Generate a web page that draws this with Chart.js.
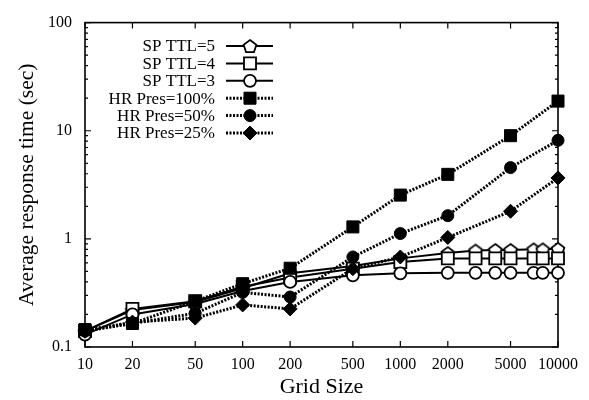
<!DOCTYPE html>
<html><head><meta charset="utf-8">
<script src="https://cdn.jsdelivr.net/npm/chart.js@4"></script>
<style>html,body{margin:0;padding:0;background:#fff}canvas{display:block}</style>
</head><body>
<canvas id="c" width="589" height="400"></canvas>
<script>
// ---- data ----
const xTickValues = [10, 20, 50, 100, 200, 500, 1000, 2000, 5000, 10000];
const xTickLabels = ['10', '20', '50', '100', '200', '500', '1000', '2000', '5000', '10000'];
const yTickValues = [0.1, 1, 10, 100];
const yTickLabels = ['0.1', '1', '10', '100'];
const seriesNames = ['SP TTL=5', 'SP TTL=4', 'SP TTL=3', 'HR Pres=100%', 'HR Pres=50%', 'HR Pres=25%'];
const gridSP = [10, 20, 50, 100, 200, 500, 1000, 2000, 3000, 4000, 5000, 7000, 8000, 10000];
const gridHR = [10, 20, 50, 100, 200, 500, 1000, 2000, 5000, 10000];
const spTTL5 = [0.14, 0.22, 0.26, 0.35, 0.48, 0.56, 0.66, 0.74, 0.78, 0.79, 0.79, 0.80, 0.80, 0.81];
const spTTL4 = [0.14, 0.225, 0.265, 0.36, 0.44, 0.53, 0.61, 0.66, 0.66, 0.66, 0.66, 0.66, 0.66, 0.66];
const spTTL3 = [0.13, 0.20, 0.25, 0.33, 0.40, 0.46, 0.48, 0.485, 0.485, 0.485, 0.485, 0.485, 0.485, 0.485];
const hrPres100 = [0.145, 0.165, 0.265, 0.385, 0.535, 1.29, 2.54, 3.95, 9.0, 18.8];
const hrPres50 = [0.14, 0.165, 0.205, 0.32, 0.29, 0.68, 1.12, 1.64, 4.56, 8.15];
const hrPres25 = [0.14, 0.17, 0.185, 0.245, 0.225, 0.53, 0.68, 1.03, 1.80, 3.66];

const FONT = '"Liberation Serif", "Times New Roman", serif';

function pts(xs, ys) { return xs.map((x, i) => ({x: x, y: ys[i]})); }

function makePentagon(size) {
  const c = document.createElement('canvas');
  c.width = size; c.height = size;
  const g = c.getContext('2d');
  const cx = size / 2, cy = size / 2 + 0.8, r = size / 2 - 1.3;
  g.beginPath();
  for (let i = 0; i < 5; i++) {
    const a = -Math.PI / 2 + i * 2 * Math.PI / 5;
    const px = cx + r * Math.cos(a), py = cy + r * Math.sin(a);
    if (i) g.lineTo(px, py); else g.moveTo(px, py);
  }
  g.closePath();
  g.fillStyle = '#fff'; g.fill();
  g.lineWidth = 1.8; g.strokeStyle = '#000'; g.stroke();
  return c;
}
const pentagon = makePentagon(16);

const solid = {borderColor: '#000', borderWidth: 2, pointBackgroundColor: '#fff', pointBorderColor: '#000', pointBorderWidth: 1.8, fill: false, tension: 0, clip: false};
const dotted = {borderColor: '#000', borderWidth: 3, borderDash: [2, 1.5], pointBackgroundColor: '#000', pointBorderColor: '#000', pointBorderWidth: 1, fill: false, tension: 0, clip: false};

const datasets = [
  Object.assign({}, solid, {label: seriesNames[0], data: pts(gridSP, spTTL5), pointStyle: pentagon, pointRadius: 7, order: 6}),
  Object.assign({}, solid, {label: seriesNames[1], data: pts(gridSP, spTTL4), pointStyle: 'rect', pointRadius: 8.5, order: 5}),
  Object.assign({}, solid, {label: seriesNames[2], data: pts(gridSP, spTTL3), pointStyle: 'circle', pointRadius: 6, order: 4}),
  Object.assign({}, dotted, {label: seriesNames[3], data: pts(gridHR, hrPres100), pointStyle: 'rect', pointRadius: 8.5, order: 3}),
  Object.assign({}, dotted, {label: seriesNames[4], data: pts(gridHR, hrPres50), pointStyle: 'circle', pointRadius: 6, order: 2}),
  Object.assign({}, dotted, {label: seriesNames[5], data: pts(gridHR, hrPres25), pointStyle: 'rectRot', pointRadius: 7, order: 1})
];

function drawMarker(ctx, o, x, y) {
  if (Chart.helpers && Chart.helpers.drawPoint) {
    Chart.helpers.drawPoint(ctx, {pointStyle: o.pointStyle, rotation: o.rotation || 0, radius: o.radius, borderWidth: o.borderWidth}, x, y);
    return;
  }
  const st = o.pointStyle, r = o.radius;
  if (st instanceof HTMLCanvasElement) { ctx.drawImage(st, x - st.width / 2, y - st.height / 2); return; }
  ctx.beginPath();
  if (st === 'circle') ctx.arc(x, y, r, 0, Math.PI * 2);
  else if (st === 'rect') { const s = Math.SQRT1_2 * r; ctx.rect(x - s, y - s, 2 * s, 2 * s); }
  else if (st === 'rectRot') { ctx.moveTo(x, y - r); ctx.lineTo(x + r, y); ctx.lineTo(x, y + r); ctx.lineTo(x - r, y); ctx.closePath(); }
  ctx.fill(); if (o.borderWidth > 0) ctx.stroke();
}

const framePlugin = {
  id: 'frame',
  beforeDatasetsDraw(chart) {
    const {ctx, chartArea: a, scales: {x, y}} = chart;
    ctx.save();
    ctx.strokeStyle = '#000';
    ctx.lineWidth = 1.2;
    ctx.beginPath();
    xTickValues.forEach(v => {
      const px = x.getPixelForValue(v);
      ctx.moveTo(px, a.bottom); ctx.lineTo(px, a.bottom - 6);
      ctx.moveTo(px, a.top); ctx.lineTo(px, a.top + 6);
    });
    for (let e = -1; e <= 2; e++) {
      for (let m = 1; m <= 9; m++) {
        const v = m * Math.pow(10, e);
        if (v > 100.0001) break;
        const py = y.getPixelForValue(v);
        const len = m === 1 ? 6 : 3;
        ctx.moveTo(a.left, py); ctx.lineTo(a.left + len, py);
        ctx.moveTo(a.right, py); ctx.lineTo(a.right - len, py);
      }
    }
    ctx.stroke();
    ctx.lineWidth = 1.6;
    ctx.strokeRect(a.left, a.top, a.right - a.left, a.bottom - a.top);
    ctx.restore();
  }
};

const legendPlugin = {
  id: 'legendBox',
  afterDraw(chart) {
    const ctx = chart.ctx;
    ctx.save();
    chart.data.datasets.forEach((ds, i) => {
      const y = 46 + i * 17.4;
      ctx.font = '17px ' + FONT;
      ctx.textAlign = 'right';
      ctx.textBaseline = 'middle';
      ctx.fillStyle = '#000';
      ctx.fillText(ds.label, 215, y + 1);
      ctx.beginPath();
      ctx.setLineDash(ds.borderDash || []);
      ctx.lineWidth = ds.borderWidth;
      ctx.strokeStyle = ds.borderColor;
      ctx.moveTo(226, y); ctx.lineTo(273, y);
      ctx.stroke();
      ctx.setLineDash([]);
      const el = chart.getDatasetMeta(i).data[0];
      const o = el.options;
      ctx.fillStyle = o.backgroundColor;
      ctx.strokeStyle = o.borderColor;
      ctx.lineWidth = o.borderWidth;
      drawMarker(ctx, o, 250, y);
    });
    ctx.restore();
  }
};

new Chart(document.getElementById('c'), {
  type: 'line',
  data: {datasets: datasets},
  options: {
    responsive: false,
    animation: false,
    devicePixelRatio: 1,
    layout: {padding: {top: 13, right: 31, left: 0, bottom: 0}},
    plugins: {legend: {display: false}, tooltip: {enabled: false}},
    scales: {
      x: {
        type: 'logarithmic',
        min: 10, max: 10000,
        grid: {display: false, drawTicks: false},
        border: {display: false},
        afterBuildTicks: s => { s.ticks = xTickValues.map(v => ({value: v})); },
        afterFit: s => { s.height = 53; },
        ticks: {
          autoSkip: false, maxRotation: 0, minRotation: 0, padding: 8, color: '#000',
          font: {family: FONT, size: 16},
          callback: (v) => { const i = xTickValues.indexOf(v); return i >= 0 ? xTickLabels[i] : ''; }
        },
        title: {display: true, text: 'Grid Size', color: '#000', font: {family: FONT, size: 22}, padding: {top: 0, bottom: 0}}
      },
      y: {
        type: 'logarithmic',
        min: 0.1, max: 100,
        grid: {display: false, drawTicks: false},
        border: {display: false},
        afterBuildTicks: s => { s.ticks = yTickValues.map(v => ({value: v})); },
        afterFit: s => { s.width = 85; },
        ticks: {
          autoSkip: false, padding: 13, color: '#000',
          font: {family: FONT, size: 16},
          callback: (v) => { const i = yTickValues.findIndex(t => Math.abs(t - v) < 1e-9); return i >= 0 ? yTickLabels[i] : ''; }
        },
        title: {display: true, text: 'Average response time (sec)', color: '#000', font: {family: FONT, size: 21.5}, padding: {top: 14, bottom: 0}}
      }
    }
  },
  plugins: [framePlugin, legendPlugin]
});
</script>
</body></html>
